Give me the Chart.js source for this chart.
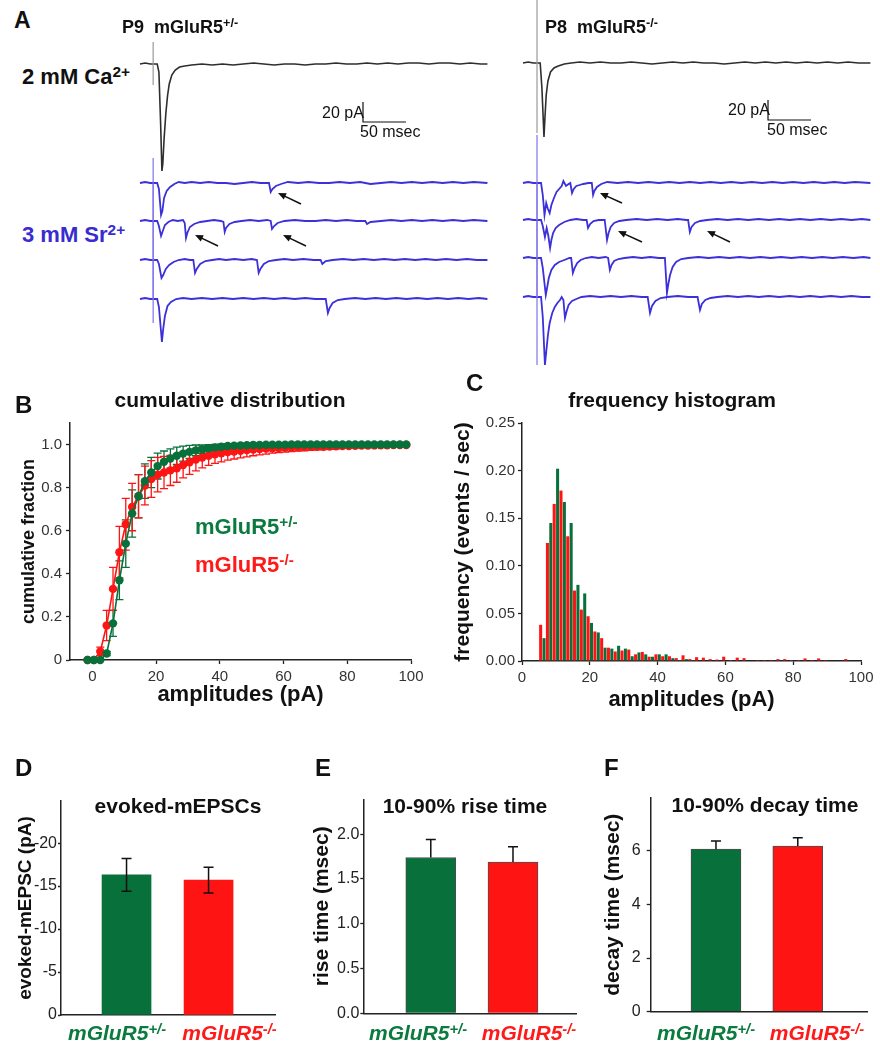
<!DOCTYPE html>
<html>
<head>
<meta charset="utf-8">
<script src="https://cdn.jsdelivr.net/npm/chart.js@4.4.1/dist/chart.umd.min.js"></script>
<style>
body { margin: 0; background: #fff; }
#fig { position: relative; width: 880px; height: 1050px; overflow: hidden; font-family: Arial, "Liberation Sans", sans-serif; }
#fig canvas { position: absolute; }
.t { position: absolute; line-height: 1; white-space: nowrap; font-weight: bold; color: #111; }
.t sup { font-size: 0.7em; position: relative; top: -0.45em; vertical-align: baseline; line-height: 0; }
.c { text-align: center; width: 300px; }
.grn { color: #0b7a3e; }
.red { color: #ff1a1a; }
.blu { color: #3a2bd0; }
.n { font-weight: normal; }
.it { font-style: italic; }
</style>
</head>
<body>
<div id="fig">
  <canvas id="aHet" width="360" height="380" style="left:135px;top:0"></canvas>
  <canvas id="aKo" width="360" height="380" style="left:518px;top:0"></canvas>
  <canvas id="cumB" width="440" height="300" style="left:0;top:410px"></canvas>
  <canvas id="histC" width="440" height="310" style="left:440px;top:410px"></canvas>
  <canvas id="barD" width="290" height="270" style="left:0;top:780px"></canvas>
  <canvas id="barE" width="290" height="270" style="left:290px;top:780px"></canvas>
  <canvas id="barF" width="300" height="270" style="left:580px;top:780px"></canvas>

  <div class="t" style="left:14px;top:8.5px;font-size:23px">A</div>
  <div class="t" style="left:122px;top:17.8px;font-size:18px">P9&nbsp;&nbsp;mGluR5<sup>+/-</sup></div>
  <div class="t" style="left:545px;top:17.8px;font-size:18px">P8&nbsp;&nbsp;mGluR5<sup>-/-</sup></div>
  <div class="t" style="left:22px;top:66.4px;font-size:22px">2 mM Ca<sup>2+</sup></div>
  <div class="t blu" style="left:22px;top:224.4px;font-size:22px">3 mM Sr<sup>2+</sup></div>
  <div class="t n" style="left:322px;top:104.5px;font-size:16px">20 pA</div>
  <div class="t n" style="left:360px;top:123.5px;font-size:16px">50 msec</div>
  <div class="t n" style="left:728px;top:101.5px;font-size:16px">20 pA</div>
  <div class="t n" style="left:767px;top:121.5px;font-size:16px">50 msec</div>

  <div class="t" style="left:15px;top:392.7px;font-size:24px">B</div>
  <div class="t c" style="left:80px;top:389.2px;font-size:21px">cumulative distribution</div>
  <div class="t grn" style="left:195px;top:516.4px;font-size:22px">mGluR5<sup>+/-</sup></div>
  <div class="t red" style="left:195px;top:554.4px;font-size:22px">mGluR5<sup>-/-</sup></div>

  <div class="t" style="left:466px;top:370.7px;font-size:24px">C</div>
  <div class="t c" style="left:522px;top:389.2px;font-size:21px">frequency histogram</div>

  <div class="t" style="left:15px;top:755.7px;font-size:24px">D</div>
  <div class="t c" style="left:28px;top:795.2px;font-size:21px">evoked-mEPSCs</div>
  <div class="t" style="left:315px;top:755.7px;font-size:24px">E</div>
  <div class="t c" style="left:315px;top:795.2px;font-size:21px">10-90% rise time</div>
  <div class="t" style="left:604px;top:755.7px;font-size:24px">F</div>
  <div class="t c" style="left:615px;top:794.2px;font-size:21px">10-90% decay time</div>
  <div id="groupLabels"></div>
</div>

<script>
// ---- panel A: traces, [time (ms), current (pA) relative to baseline] ----
const hetCa = [[0,0],[6,1],[12,0],[16,0],[20,0],[22,-8],[24,-60],[25.5,-107],[26.5,-100],[28,-75],[30,-50],[32,-32],[34,-20],[37,-11],[41,-6],[46,-3],[52,-2],[60,-1],[72,0],[84,-1],[96,0],[108,-1],[120,0],[132,1],[144,0],[156,-1],[168,0],[180,0],[192,-1],[204,0],[216,0],[228,1],[240,0],[252,0],[264,1],[276,0],[288,1],[300,0],[312,1],[324,1],[336,0],[348,1],[360,1],[372,0],[384,1],[396,0],[404,0]];
const hetSr = [
  [[0,0],[6,1],[12,0],[15,0],[20,0],[22,-6],[24.5,-32],[26,-28],[28,-15],[31,-8],[35,-4],[40,-1],[45,1],[52,0],[60,1],[70,0],[80,1],[90,0],[100,0],[110,-1],[120,0],[130,1],[140,0],[150,0],[152,-9],[154,-6],[158,-3],[164,-1],[172,1],[184,0],[196,1],[208,0],[220,0],[232,1],[244,0],[256,1],[268,-1],[280,0],[292,1],[304,0],[316,1],[328,0],[340,1],[352,0],[364,1],[376,0],[388,1],[404,0]],
  [[0,0],[6,1],[12,0],[15,0],[20,0],[22,-5],[24.5,-15],[26.5,-10],[29,-4],[33,-1],[38,1],[44,0],[50,1],[52,-2],[53.5,-17],[55,-12],[58,-6],[63,-3],[70,-1],[78,0],[86,1],[94,0],[97,-1],[98.5,-11],[100,-7],[104,-3],[110,-1],[118,0],[128,1],[138,0],[148,1],[152,0],[153.5,-8],[156,-5],[160,-2],[168,0],[180,1],[192,0],[204,0],[216,1],[228,0],[240,1],[252,0],[262,0],[264,-3],[268,-1],[280,0],[292,1],[304,0],[316,1],[328,0],[340,1],[352,0],[364,1],[376,0],[388,1],[404,0]],
  [[0,0],[6,1],[12,0],[15,0],[20,0],[22,-4],[25,-18],[27,-15],[30,-9],[34,-5],[39,-2],[45,0],[52,1],[58,0],[62,0],[64,-13],[66,-9],[70,-4],[76,-1],[84,0],[92,1],[100,0],[110,1],[120,0],[130,1],[136,0],[138,-13],[140,-9],[144,-4],[150,-1],[158,0],[168,1],[178,0],[190,1],[202,0],[210,0],[212,-4],[216,-1],[224,0],[236,1],[248,0],[260,1],[272,0],[284,1],[296,0],[308,1],[320,0],[332,1],[344,0],[356,1],[368,0],[380,1],[392,0],[404,0]],
  [[0,0],[6,1],[12,0],[15,0],[20,0],[22,-8],[25.5,-43],[27,-30],[29,-17],[32,-7],[36,-3],[42,0],[50,1],[60,0],[72,1],[84,0],[96,1],[108,0],[120,1],[132,0],[144,1],[156,0],[168,1],[180,0],[192,1],[204,0],[216,0],[218.5,-14],[220.5,-9],[224,-4],[230,-1],[238,0],[250,1],[262,0],[274,1],[286,0],[298,1],[310,0],[322,1],[334,0],[346,1],[358,0],[370,1],[382,0],[394,1],[404,0]]
];
const koCa = [[0,0],[6,1],[12,0],[16,0],[20,0],[22,-25],[24.4,-74],[25.5,-55],[27,-32],[29,-18],[32,-9],[36,-5],[41,-3],[48,-1],[56,0],[66,1],[78,0],[90,1],[102,0],[114,0],[126,1],[138,0],[150,-1],[162,0],[174,1],[186,0],[198,1],[210,0],[222,0],[234,-1],[246,0],[258,1],[270,0],[282,1],[294,0],[306,1],[318,0],[330,1],[342,0],[354,1],[366,0],[378,1],[390,0],[404,0]];
const koSr = [
  [[0,0],[6,1],[12,0],[16,0],[21,0],[23,-12],[25,-32],[27,-20],[29,-26],[31,-30],[33,-22],[36,-15],[39,-9],[42,-6],[45,-3],[47,2],[50,-3],[53,-1],[55,0],[57,-10],[59,-6],[62,-3],[66,-2],[70,-1],[76,0],[80,0],[81.5,-12],[83,-8],[86,-4],[91,-1],[98,1],[110,0],[122,1],[134,0],[146,1],[158,0],[170,1],[182,0],[194,1],[206,0],[218,1],[230,0],[242,1],[254,0],[266,1],[278,0],[290,1],[302,0],[314,1],[326,0],[338,1],[350,0],[362,1],[374,0],[386,1],[404,0]],
  [[0,0],[6,1],[12,0],[16,0],[21,0],[23,-6],[25.5,-17],[27.5,-8],[29.5,-16],[31.5,-28],[33,-20],[35,-13],[38,-8],[42,-5],[48,-2],[55,0],[62,1],[70,0],[74,0],[75.6,-8],[78,-4],[82,-1],[88,0],[95,0],[97.7,-20],[99.5,-13],[102,-7],[106,-3],[112,-1],[120,0],[132,1],[144,0],[156,1],[168,0],[180,1],[190,0],[192,0],[194,-12],[196,-7],[200,-3],[206,-1],[214,0],[226,1],[238,0],[250,1],[262,0],[274,1],[286,0],[298,1],[310,0],[322,1],[334,0],[346,1],[358,0],[370,1],[382,0],[394,1],[404,0]],
  [[0,0],[6,1],[12,0],[16,0],[21,0],[23,-10],[26.5,-37],[28,-30],[30,-20],[33,-12],[37,-7],[42,-4],[48,-2],[54,0],[56,0],[58,-15],[60,-10],[63,-5],[67,-2],[73,0],[80,1],[88,0],[96,1],[99,0],[101,-12],[103,-7],[106,-3],[111,-1],[118,0],[128,1],[138,0],[148,1],[158,0],[165,0],[167.4,-35],[169,-26],[171,-17],[174,-9],[178,-4],[184,-1],[192,0],[204,1],[216,0],[228,1],[240,0],[252,1],[264,0],[276,1],[288,0],[300,1],[312,0],[324,1],[336,0],[348,1],[360,0],[372,1],[384,0],[396,1],[404,0]],
  [[0,0],[6,1],[12,0],[16,0],[21,0],[23,-20],[25.5,-68],[27,-55],[29,-38],[31,-26],[34,-16],[37,-10],[40,-6],[43,-3],[45,0],[47,-3],[48.8,-21],[50.5,-15],[53,-8],[57,-4],[62,-2],[68,0],[78,1],[90,0],[102,1],[114,0],[126,1],[138,0],[145,0],[147.7,-16],[150,-9],[154,-4],[160,-1],[168,0],[180,1],[192,0],[203,0],[205.8,-13],[208,-7],[212,-3],[218,-1],[226,0],[238,1],[250,0],[262,1],[274,0],[286,1],[298,0],[310,1],[322,0],[334,1],[346,0],[358,1],[370,0],[382,1],[394,0],[404,0]]
];
// stimulus artifacts: [time, top, bottom] relative to each baseline
const hetCaArtifact = [15.3, 22, -21];
const hetSrArtifacts = [[15.3, 25, -38], [15.3, 38, -39], [15.3, 39, -39], [15.3, 39, -24]];
const koCaArtifact = [16.3, 63, -70];
const koSrArtifacts = [[16.3, 48, -37], [16.3, 37, -38], [16.3, 38, -39], [16.3, 39, -68]];

// ---- panel B: cumulative distribution ----
const cumAmps = [-1.5,0.5,2.5,4.5,6.5,8.5,10.5,12.5,14.5,16.5,18.5,20.5,22.5,24.5,26.5,28.5,30.5,32.5,34.5,36.5,38.5,40.5,42.5,44.5,46.5,48.5,50.5,52.5,54.5,56.5,58.5,60.5,62.5,64.5,66.5,68.5,70.5,72.5,74.5,76.5,78.5,80.5,82.5,84.5,86.5,88.5,90.5,92.5,94.5,96.5,98.5];
const cumHet = [0,0,0,0.03,0.17,0.37,0.54,0.68,0.76,0.83, 0.87,0.90,0.92,0.935,0.948,0.958,0.966,0.973,0.978,0.983, 0.987,0.99,0.993,0.995,0.996,0.997,0.998,0.998,0.999,0.999, 0.999,0.999,1,1,1,1,1,1,1,1, 1,1,1,1,1,1,1,1,1,1, 1];
const cumHetErr = [0,0,0,0.01,0.06,0.09,0.11,0.11,0.10,0.08, 0.07,0.06,0.05,0.045,0.04,0.035,0.03,0.025,0.02,0.017, 0.014,0.012,0.01,0.008,0.006,0.005,0.004,0.003,0.002,0.002, 0,0,0,0,0,0,0,0,0,0, 0,0,0,0,0,0,0,0,0,0, 0];
const cumKo = [0,0,0.04,0.16,0.33,0.50,0.63,0.71,0.76,0.81, 0.84,0.86,0.87,0.88,0.89,0.905,0.918,0.93,0.94,0.948, 0.955,0.96,0.965,0.968,0.971,0.974,0.977,0.979,0.981,0.983, 0.984,0.985,0.986,0.987,0.988,0.989,0.99,0.99,0.991,0.992, 0.993,0.993,0.994,0.995,0.995,0.996,0.997,0.997,0.998,0.998, 0.998];
const cumKoErr = [0,0,0.02,0.07,0.10,0.12,0.12,0.11,0.10,0.09, 0.085,0.08,0.075,0.07,0.065,0.06,0.056,0.052,0.048,0.045, 0.042,0.04,0.037,0.035,0.033,0.031,0.029,0.027,0.025,0.023, 0.021,0.02,0.019,0.018,0.017,0.016,0.015,0.014,0.013,0.012, 0.011,0.01,0.01,0.009,0.008,0.007,0.006,0.005,0.005,0.004, 0.004];

// ---- panel C: frequency histogram (events / sec), bins of 2 pA ----
const histBins = [6,8,10,12,14,16,18,20,22,24,26,28,30,32,34,36,38,40,42,44,46,48,50,52,54,56,58,60,62,64,66,68,70,72,74,76,78,80,82,84,86,88,90,92,94,96,98];
const histHet = [0.024,0.145,0.202,0.167,0.145,0.080,0.071,0.040,0.030,0.014, 0.013,0.016,0.013,0.005,0.009,0.007,0.0045,0.007,0.007,0.003, 0.001,0.002,0.001,0,0,0,0,0,0,0, 0,0,0,0,0,0,0,0,0,0, 0,0,0,0,0,0,0];
const histKo = [0.038,0.124,0.165,0.179,0.131,0.074,0.054,0.047,0.031,0.024, 0.014,0.010,0.011,0.012,0.007,0.0095,0.0045,0.007,0.005,0.005, 0.003,0.006,0.002,0.004,0.0035,0.002,0.0015,0.0045,0.001,0.0035, 0.003,0,0.001,0.001,0.001,0.002,0.002,0.001,0.001,0.0027, 0.001,0.0027,0.001,0,0,0.002,0.0005];

// ---- panels D-F: means and SEM ----
const groups = ['mGluR5+/-', 'mGluR5-/-'];
const evokedMean = [-16.3, -15.7];
const evokedSem = [1.9, 1.5];
const riseMean = [1.74, 1.69];
const riseSem = [0.2, 0.17];
const decayMean = [6.06, 6.18];
const decaySem = [0.31, 0.31];

// ---- styling / layout ----
const GREEN = '#08703a';
const RED = '#ff1414';
const BLUE = '#3b30d9';
const groupColors = [GREEN, RED];
const groupTextClass = ['grn', 'red'];
const FONT = 'Arial, "Liberation Sans", sans-serif';

Chart.defaults.font.family = FONT;
Chart.defaults.color = '#222';
Chart.defaults.animation = false;
Chart.defaults.responsive = false;
Chart.defaults.devicePixelRatio = 1;
Chart.defaults.events = [];
Chart.defaults.plugins.legend.display = false;
Chart.defaults.plugins.tooltip.enabled = false;

function fixedWidth(w) { return axis => { axis.width = w; }; }
function fixedHeight(h) { return axis => { axis.height = h; }; }
function keepSteps(step) {
    return axis => {
        axis.ticks = axis.ticks.filter(t => Math.abs(t.value / step - Math.round(t.value / step)) < 1e-6);
    };
}
function tickGrid(len) {
    return { display: true, drawOnChartArea: false, drawTicks: true, tickLength: len, tickColor: '#222', tickWidth: 1.3 };
}
const axisBorder = { display: true, color: '#222', width: 1.5 };

// arrows and scale bars on the trace charts
const traceMarks = {
    id: 'traceMarks',
    afterDatasetsDraw(chart, args, opts) {
        const { ctx, scales: { x, y } } = chart;
        ctx.save();
        ctx.strokeStyle = '#111';
        ctx.fillStyle = '#111';
        if (opts.scaleBar) {
            const [t0, v0, dv, dt] = opts.scaleBar;
            ctx.lineWidth = 1.2;
            ctx.beginPath();
            ctx.moveTo(x.getPixelForValue(t0), y.getPixelForValue(v0 + dv));
            ctx.lineTo(x.getPixelForValue(t0), y.getPixelForValue(v0));
            ctx.lineTo(x.getPixelForValue(t0 + dt), y.getPixelForValue(v0));
            ctx.stroke();
        }
        (opts.arrows || []).forEach(([t1, v1, t2, v2]) => {
            const x1 = x.getPixelForValue(t1), y1 = y.getPixelForValue(v1);
            const x2 = x.getPixelForValue(t2), y2 = y.getPixelForValue(v2);
            const a = Math.atan2(y2 - y1, x2 - x1);
            const c = Math.cos(a), s = Math.sin(a);
            ctx.lineWidth = 1.5;
            ctx.beginPath();
            ctx.moveTo(x1, y1);
            ctx.lineTo(x2 - 5 * c, y2 - 5 * s);
            ctx.stroke();
            ctx.beginPath();
            ctx.moveTo(x2, y2);
            ctx.lineTo(x2 - 8 * c + 3.5 * s, y2 - 8 * s - 3.5 * c);
            ctx.lineTo(x2 - 8 * c - 3.5 * s, y2 - 8 * s + 3.5 * c);
            ctx.closePath();
            ctx.fill();
        });
        ctx.restore();
    }
};

function drawErrors(chart, opts) {
    const { ctx } = chart;
    const yScale = chart.scales.y;
    ctx.save();
    ctx.lineWidth = opts.lineWidth || 1.5;
    chart.data.datasets.forEach((ds, i) => {
        if (!ds.errors) return;
        const meta = chart.getDatasetMeta(i);
        ctx.strokeStyle = opts.color || ds.borderColor;
        meta.data.forEach((el, j) => {
            const err = ds.errors[j];
            if (!err) return;
            const raw = ds.data[j];
            const v = typeof raw === 'object' ? raw.y : raw;
            const dir = v < 0 ? -1 : 1;
            const yHi = yScale.getPixelForValue(v + dir * err);
            const yLo = opts.mode === 'up' ? el.y : yScale.getPixelForValue(v - dir * err);
            const w = opts.cap / 2;
            ctx.beginPath();
            ctx.moveTo(el.x, yLo);
            ctx.lineTo(el.x, yHi);
            ctx.moveTo(el.x - w, yHi);
            ctx.lineTo(el.x + w, yHi);
            if (opts.mode !== 'up') {
                ctx.moveTo(el.x - w, yLo);
                ctx.lineTo(el.x + w, yLo);
            }
            ctx.stroke();
        });
    });
    ctx.restore();
}
const errorBars = {
    id: 'errorBars',
    beforeDatasetsDraw(chart, args, opts) { if (opts.layer === 'before') drawErrors(chart, opts); },
    afterDatasetsDraw(chart, args, opts) { if (opts.layer !== 'before') drawErrors(chart, opts); }
};

// trace panels: 0.86 px per ms, 1 px per pA
function traceLine(points, offset, color, width) {
    return {
        data: points.map(p => ({ x: p[0], y: p[1] + offset })),
        borderColor: color, borderWidth: width, pointRadius: 0, tension: 0, clip: false
    };
}
function artifactLine(art, offset, color) {
    const [t, up, down] = art;
    return traceLine([[t, 0], [t, up], [t, down], [t, 0]], offset, color, 1.2);
}
function traceChart(id, ca, caArt, sr, srArts, offsets, marks) {
    const sets = [];
    sets.push(artifactLine(caArt, offsets.ca, '#9a9a9a'));
    sets.push(traceLine(ca, offsets.ca, '#2e2e2e', 1.6));
    sr.forEach((tr, i) => {
        sets.push(artifactLine(srArts[i], offsets.sr[i], '#7f74ee'));
        sets.push(traceLine(tr, offsets.sr[i], BLUE, 1.8));
    });
    return new Chart(document.getElementById(id), {
        type: 'line',
        data: { datasets: sets },
        options: {
            layout: { padding: 0 },
            scales: {
                x: { type: 'linear', display: false, min: -5.81, max: 412.8 },
                y: { type: 'linear', display: false, min: -380, max: 0 }
            },
            plugins: { traceMarks: marks }
        },
        plugins: [traceMarks]
    });
}

traceChart('aHet', hetCa, hetCaArtifact, hetSr, hetSrArtifacts,
    { ca: -64, sr: [-183, -221, -260, -299] },
    {
        scaleBar: [259.3, -122, 20, 50],
        arrows: [[187.2, -204, 160.5, -193], [90.7, -246, 64, -235], [193, -246, 166.3, -235]]
    });
traceChart('aKo', koCa, koCaArtifact, koSr, koSrArtifacts,
    { ca: -63, sr: [-183, -220, -258, -297] },
    {
        scaleBar: [284.9, -120, 20, 50],
        arrows: [[115.1, -203, 89.5, -193], [138.4, -242, 110.5, -231], [240.7, -242, 214, -231]]
    });

// panel B
new Chart(document.getElementById('cumB'), {
    type: 'line',
    data: {
        datasets: [
            { data: cumAmps.map((a, i) => ({ x: a, y: cumHet[i] })), errors: cumHetErr, borderColor: GREEN, backgroundColor: GREEN,
              pointBackgroundColor: GREEN, pointRadius: 4.2, pointBorderWidth: 0, borderWidth: 1.6, tension: 0, clip: false },
            { data: cumAmps.map((a, i) => ({ x: a, y: cumKo[i] })), errors: cumKoErr, borderColor: RED, backgroundColor: RED,
              pointBackgroundColor: RED, pointRadius: 4.2, pointBorderWidth: 0, borderWidth: 1.6, tension: 0, clip: false }
        ]
    },
    options: {
        layout: { padding: { left: 0, right: 29, top: 11, bottom: 0 } },
        scales: {
            x: {
                type: 'linear', min: -7, max: 100,
                ticks: { stepSize: 20, includeBounds: false, font: { size: 15 }, color: '#333', padding: 4, maxRotation: 0 },
                grid: tickGrid(4), border: axisBorder,
                title: { display: true, text: 'amplitudes (pA)', font: { size: 22, weight: 'bold' }, color: '#111', padding: { top: 0, bottom: 2 } },
                afterBuildTicks: keepSteps(20), afterFit: fixedHeight(50)
            },
            y: {
                type: 'linear', min: 0, max: 1.1,
                ticks: { stepSize: 0.2, includeBounds: false, font: { size: 15 }, color: '#333', padding: 4, callback: v => v === 0 ? '0' : v.toFixed(1) },
                grid: tickGrid(4), border: axisBorder,
                title: { display: true, text: 'cumulative fraction', font: { size: 18, weight: 'bold' }, color: '#111', padding: { top: 18, bottom: 0 } },
                afterBuildTicks: keepSteps(0.2), afterFit: fixedWidth(70)
            }
        },
        plugins: { errorBars: { layer: 'before', mode: 'both', cap: 8, lineWidth: 1.3 } }
    },
    plugins: [errorBars]
});

// panel C
new Chart(document.getElementById('histC'), {
    type: 'bar',
    data: {
        datasets: [
            { data: histBins.map((b, i) => ({ x: b, y: histKo[i] })), backgroundColor: RED, barPercentage: 0.9, categoryPercentage: 1 },
            { data: histBins.map((b, i) => ({ x: b, y: histHet[i] })), backgroundColor: GREEN, barPercentage: 0.9, categoryPercentage: 1 }
        ]
    },
    options: {
        layout: { padding: { left: 0, right: 19, top: 13, bottom: 0 } },
        scales: {
            x: {
                type: 'linear', min: 0, max: 100, offset: false,
                ticks: { stepSize: 20, includeBounds: false, font: { size: 15 }, color: '#333', padding: 4, maxRotation: 0 },
                grid: Object.assign(tickGrid(4), { offset: false }), border: axisBorder,
                title: { display: true, text: 'amplitudes (pA)', font: { size: 22, weight: 'bold' }, color: '#111', padding: { top: 0, bottom: 7 } },
                afterBuildTicks: keepSteps(20), afterFit: fixedHeight(59)
            },
            y: {
                type: 'linear', min: 0, max: 0.25,
                ticks: { stepSize: 0.05, includeBounds: false, font: { size: 15 }, color: '#333', padding: 3, callback: v => v.toFixed(2) },
                grid: tickGrid(4), border: axisBorder,
                title: { display: true, text: 'frequency (events / sec)', font: { size: 21, weight: 'bold' }, color: '#111', padding: { top: 10.4, bottom: 0 } },
                afterBuildTicks: keepSteps(0.05), afterFit: fixedWidth(82)
            }
        }
    }
});

// panels D-F
function barPanel(id, means, sems, o) {
    return new Chart(document.getElementById(id), {
        type: 'bar',
        data: {
            datasets: [{
                data: means.map((m, i) => ({ x: i + 1, y: m })),
                errors: sems,
                backgroundColor: groupColors,
                borderColor: o.edge || groupColors,
                borderWidth: o.edge ? 1 : 0,
                barThickness: o.barW,
                grouped: false
            }]
        },
        options: {
            layout: { padding: { left: 0, right: o.padR, top: o.padT, bottom: 0 } },
            scales: {
                x: {
                    type: 'linear', min: o.xMin, max: o.xMax, offset: false,
                    ticks: { display: false }, grid: { display: false }, border: axisBorder,
                    afterFit: fixedHeight(o.xH)
                },
                y: {
                    type: 'linear', min: o.yMin, max: o.yMax, reverse: !!o.reverse,
                    ticks: { stepSize: o.step, includeBounds: false, font: { size: 16 }, color: '#222', padding: o.tickPad, callback: o.fmt },
                    grid: tickGrid(o.tickLen), border: axisBorder,
                    title: { display: true, text: o.yTitle, font: { size: o.titleSize, weight: 'bold' }, color: '#111', padding: { top: o.titlePad, bottom: 0 } },
                    afterBuildTicks: keepSteps(o.step), afterFit: fixedWidth(o.yW)
                }
            },
            plugins: { errorBars: { layer: 'after', mode: o.errMode, cap: 10, lineWidth: 1.5, color: '#111' } }
        },
        plugins: [errorBars]
    });
}

barPanel('barD', evokedMean, evokedSem, {
    padR: 15, padT: 21, xH: 35, yW: 61, xMin: 0.201, xMax: 2.81, barW: 49,
    yMin: -24.9, yMax: 0, reverse: true, step: 5, fmt: v => String(v),
    tickLen: 3, tickPad: 1, yTitle: 'evoked-mEPSC (pA)', titleSize: 19, titlePad: 14.6, errMode: 'both'
});
barPanel('barE', riseMean, riseSem, {
    padR: 3.3, padT: 19.3, xH: 36.7, yW: 73.3, xMin: 0.179, xMax: 2.775, barW: 50,
    yMin: 0, yMax: 2.39, step: 0.5, fmt: v => v.toFixed(1), edge: '#4d4d4d',
    tickLen: 3, tickPad: 1, yTitle: 'rise time (msec)', titleSize: 21, titlePad: 19.4, errMode: 'up'
});
barPanel('barF', decayMean, decaySem, {
    padR: 12.7, padT: 17.7, xH: 38.3, yW: 70.7, xMin: 0.202, xMax: 2.85, barW: 50,
    yMin: 0, yMax: 7.98, step: 2, fmt: v => String(v), edge: '#4d4d4d',
    tickLen: 4, tickPad: 6, yTitle: 'decay time (msec)', titleSize: 21, titlePad: 20.4, errMode: 'up'
});

// group labels under the bar panels (with superscript genotype)
const labelCenters = [[117, 229.5], [418, 529], [706, 817]];
const holder = document.getElementById('groupLabels');
labelCenters.forEach(pair => {
    pair.forEach((cx, i) => {
        const d = document.createElement('div');
        d.className = 't c it ' + groupTextClass[i];
        d.style.left = (cx - 150) + 'px';
        d.style.top = '1022.2px';
        d.style.fontSize = '21px';
        d.innerHTML = groups[i].replace(/^(mGluR5)(.*)$/, '$1<sup>$2</sup>');
        holder.appendChild(d);
    });
});
</script>
</body>
</html>
